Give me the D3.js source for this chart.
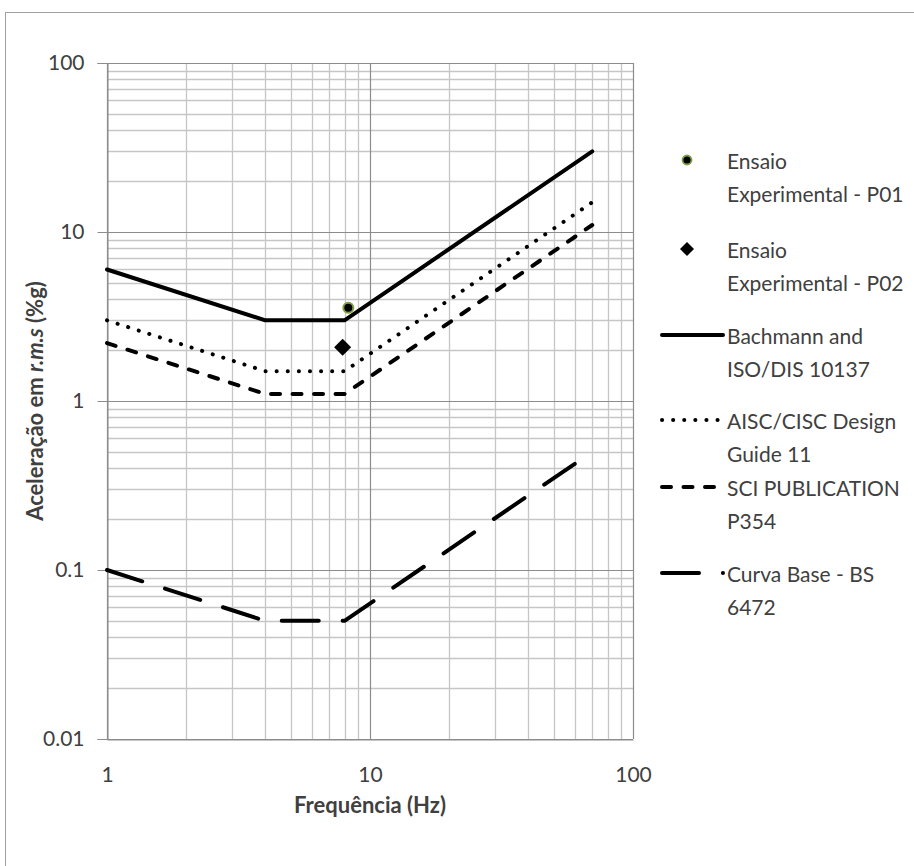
<!DOCTYPE html>
<html>
<head>
<meta charset="utf-8">
<script src="https://cdn.jsdelivr.net/npm/d3@7"></script>
<style>
  html, body { margin: 0; padding: 0; background: #fff; }
  svg { display: block; }
  text { font-family: Lato, "Open Sans", sans-serif; fill: #404040; }
</style>
</head>
<body>
<svg id="chart" width="914" height="866"></svg>
<script>
// Vibration acceptance curves (acceleration r.m.s in %g versus frequency)
const freqs      = [1, 4, 8, 70];
const bachmann   = [6, 3, 3, 30];
const aisc       = [3, 1.5, 1.5, 15];
const sci        = [2.2, 1.1, 1.1, 11];
const curvaBase  = [0.1, 0.05, 0.05, 0.5];

// Measured points
const p01Freq = [8.27], p01Acc = [3.56];
const p02Freq = [7.87], p02Acc = [2.08];

const xTickValues = [1, 10, 100];
const xTickLabels = ["1", "10", "100"];
const yTickValues = [0.01, 0.1, 1, 10, 100];
const yTickLabels = ["0.01", "0.1", "1", "10", "100"];

const legendLabels = [
  ["Ensaio", "Experimental - P01"],
  ["Ensaio", "Experimental - P02"],
  ["Bachmann and", "ISO/DIS 10137"],
  ["AISC/CISC Design", "Guide 11"],
  ["SCI PUBLICATION", "P354"],
  ["Curva Base - BS", "6472"]
];

const svg = d3.select("#chart");
const fontSize = 21;

// outer chart frame
svg.append("rect")
  .attr("x", 5.5).attr("y", 12.5)
  .attr("width", 940).attr("height", 900)
  .attr("fill", "none").attr("stroke", "#a0a0a0").attr("stroke-width", 1);

const plot = { left: 107, right: 633, top: 63, bottom: 739 };

const x = d3.scaleLog().domain([1, 100]).range([plot.left, plot.right]);
const y = d3.scaleLog().domain([0.01, 100]).range([plot.bottom, plot.top]);

const minorColor = "#c6c6c6";
const majorColor = "#8c8c8c";

// minor grid lines (2..9 within each decade)
const minorX = [], minorY = [];
for (let d = 1; d < 100; d *= 10) for (let k = 2; k <= 9; k++) minorX.push(d * k);
for (let d = 0.01; d < 100; d *= 10) for (let k = 2; k <= 9; k++) minorY.push(+(d * k).toPrecision(3));

const grid = svg.append("g");
grid.selectAll(".vminor").data(minorX).join("line")
  .attr("x1", d => Math.round(x(d)) + 0.5).attr("x2", d => Math.round(x(d)) + 0.5)
  .attr("y1", plot.top).attr("y2", plot.bottom)
  .attr("stroke", minorColor).attr("stroke-width", 1.3);
grid.selectAll(".hminor").data(minorY).join("line")
  .attr("y1", d => Math.round(y(d)) + 0.5).attr("y2", d => Math.round(y(d)) + 0.5)
  .attr("x1", plot.left).attr("x2", plot.right)
  .attr("stroke", minorColor).attr("stroke-width", 1.3);

// major grid lines at decades
grid.selectAll(".vmajor").data(xTickValues).join("line")
  .attr("x1", d => Math.round(x(d)) + 0.5).attr("x2", d => Math.round(x(d)) + 0.5)
  .attr("y1", plot.top).attr("y2", plot.bottom)
  .attr("stroke", majorColor).attr("stroke-width", 1.2);
grid.selectAll(".hmajor").data(yTickValues).join("line")
  .attr("y1", d => Math.round(y(d)) + 0.5).attr("y2", d => Math.round(y(d)) + 0.5)
  .attr("x1", plot.left).attr("x2", plot.right)
  .attr("stroke", majorColor).attr("stroke-width", 1.2);

// axes
const yAxis = d3.axisLeft(y).tickValues(yTickValues)
  .tickFormat((d, i) => yTickLabels[i]).tickSizeOuter(0).tickSize(10).tickPadding(13);
const gy = svg.append("g").attr("transform", `translate(${plot.left + 0.5},0)`).call(yAxis);
gy.select(".domain").attr("stroke", majorColor);
gy.selectAll(".tick line").attr("stroke", majorColor);
gy.selectAll(".tick text").attr("font-size", fontSize).attr("fill", "#404040")
  .attr("font-family", "Lato, sans-serif");

const xAxis = d3.axisBottom(x).tickValues(xTickValues)
  .tickFormat((d, i) => xTickLabels[i]).tickSizeOuter(0).tickSize(0).tickPadding(28);
const gx = svg.append("g").attr("transform", `translate(0,${plot.bottom + 0.5})`).call(xAxis);
gx.select(".domain").attr("stroke", majorColor);
gx.selectAll(".tick text").attr("font-size", fontSize).attr("fill", "#404040")
  .attr("font-family", "Lato, sans-serif");

// axis titles
svg.append("text")
  .attr("x", (plot.left + plot.right) / 2).attr("y", 813)
  .attr("text-anchor", "middle").attr("font-size", 22).attr("font-weight", "bold")
  .text("Frequência (Hz)");

const yt = svg.append("text")
  .attr("transform", `translate(43,${(plot.top + plot.bottom) / 2}) rotate(-90)`)
  .attr("text-anchor", "middle").attr("font-size", 22).attr("font-weight", "bold");
yt.append("tspan").text("Aceleração em ");
yt.append("tspan").attr("font-style", "italic").text("r.m.s");
yt.append("tspan").text(" (%g)");

// curve styles
const styles = {
  solid:    { dash: null,      cap: "round" },
  dot:      { dash: "0.1,11",  cap: "round" },
  dash:     { dash: "9,12.5",  cap: "round" },
  longdash: { dash: "37,23.9", cap: "round" }
};
const lineW = 4;

const line = d3.line().x(d => x(d[0])).y(d => y(d[1]));
const series = [
  { vals: bachmann,  style: styles.solid },
  { vals: aisc,      style: styles.dot },
  { vals: sci,       style: styles.dash },
  { vals: curvaBase, style: styles.longdash }
];

const curves = svg.append("g");
series.forEach(s => {
  curves.append("path")
    .attr("d", line(freqs.map((f, i) => [f, s.vals[i]])))
    .attr("fill", "none").attr("stroke", "#000")
    .attr("stroke-width", lineW)
    .attr("stroke-linecap", s.style.cap)
    .attr("stroke-linejoin", "round")
    .attr("stroke-dasharray", s.style.dash);
});

// measured points
const ringColor = "#7f9f45";
const pts = svg.append("g");
pts.selectAll(".p01").data(p01Freq.map((f, i) => [f, p01Acc[i]])).join("circle")
  .attr("cx", d => x(d[0])).attr("cy", d => y(d[1])).attr("r", 5)
  .attr("fill", "#000").attr("stroke", ringColor).attr("stroke-width", 2);
const diamond = r => `M0,${-r}L${r},0L0,${r}L${-r},0Z`;
pts.selectAll(".p02").data(p02Freq.map((f, i) => [f, p02Acc[i]])).join("path")
  .attr("transform", d => `translate(${x(d[0])},${y(d[1])})`)
  .attr("d", diamond(8.5)).attr("fill", "#000");

// legend
const legendY = [160, 249, 335, 420, 487, 573];
const legend = svg.append("g");
const lgTextX = 727, lgLineH = 33;
legendLabels.forEach((lbl, i) => {
  const t = legend.append("text").attr("x", lgTextX).attr("y", legendY[i])
    .attr("font-size", fontSize).attr("dominant-baseline", "central");
  lbl.forEach((s, j) => t.append("tspan").attr("x", lgTextX).attr("dy", j ? lgLineH : 0).text(s));
});
legend.append("circle").attr("cx", 687).attr("cy", legendY[0]).attr("r", 4.5)
  .attr("fill", "#000").attr("stroke", ringColor).attr("stroke-width", 1.8);
legend.append("path").attr("transform", `translate(687,${legendY[1]})`)
  .attr("d", diamond(7)).attr("fill", "#000");
[styles.solid, styles.dot, styles.dash, styles.longdash].forEach((st, k) => {
  legend.append("path")
    .attr("d", `M662,${legendY[k + 2]}H723`)
    .attr("stroke", "#000").attr("stroke-width", lineW)
    .attr("stroke-linecap", st.cap).attr("stroke-dasharray", st.dash);
});
</script>
</body>
</html>
